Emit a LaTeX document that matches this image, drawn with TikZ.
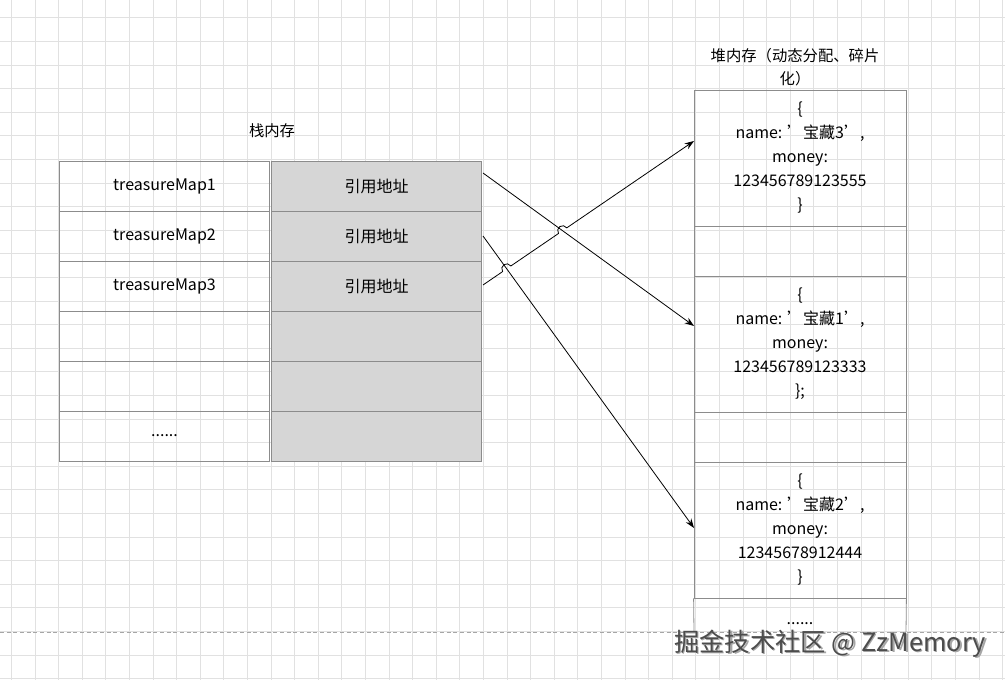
\documentclass[tikz,border=0pt]{standalone}
\usepackage{fontspec}
\setmainfont{Noto Sans CJK SC}
\usetikzlibrary{arrows.meta}
\definecolor{gridgray}{RGB}{225,225,225}
\definecolor{cellgray}{RGB}{214,214,214}
\newcommand\sq{\symbol{39}}
\tikzset{
  cell/.style={draw=black!45,line width=0.6pt,minimum width=158pt,minimum height=37.5pt,inner sep=0pt,font=\fontsize{12pt}{18pt}\selectfont,align=center},
  ref/.style={cell,fill=cellgray},
  obj/.style={cell,minimum width=159pt,minimum height=102pt},
  gap/.style={cell,minimum width=159pt},
  link/.style={line width=0.6pt,-{Stealth[length=7pt,width=5pt]}}
}
\begin{document}
\begin{tikzpicture}[x=0.75pt,y=-0.75pt]
  \useasboundingbox (0,0) rectangle (1005,680);
  \fill[white] (0,0) rectangle (1005,680);
  % background grid
  \foreach \i in {0,...,42} \draw[gridgray,line width=0.5pt] (11.4+23.6*\i,0) -- (11.4+23.6*\i,680);
  \foreach \j in {0,...,28} \draw[gridgray,line width=0.5pt] (0,17.8+23.6*\j) -- (1005,17.8+23.6*\j);

  % stack
  \node[font=\fontsize{11.5pt}{13pt}\selectfont] (stack) at (272,131) {栈内存};
  \foreach \r/\txt in {1/treasureMap1,2/treasureMap2,3/treasureMap3,4/,5/,6/{......}} {
    \node[cell] (name\r) at (164.5,136+50*\r) {\txt};
  }
  \foreach \r/\txt in {1/引用地址,2/引用地址,3/引用地址,4/,5/,6/} {
    \node[ref] (addr\r) at (376.5,136+50*\r) {\txt};
  }

  % heap
  \node[font=\fontsize{11.5pt}{17pt}\selectfont,align=center] (heap) at (795,67) {堆内存（动态分配、碎片\\化）};
  \node[obj] (obj3) at (800,158) {\{\\name: \sq{}宝藏3\sq,\\money:\\123456789123555\\\}};
  \node[gap] (gap1) at (800,251) {};
  \node[obj] (obj1) at (800,344) {\{\\name: \sq{}宝藏1\sq,\\money:\\123456789123333\\\};};
  \node[gap] (gap2) at (800,437) {};
  \node[obj] (obj2) at (800,530) {\{\\name: \sq{}宝藏2\sq,\\money:\\12345678912444\\\}};
  \draw[black!45,line width=0.6pt] (obj2.south west) -- (694,632) (obj2.south east) -- (906,632);
  \node[font=\fontsize{12pt}{13pt}\selectfont] (more) at (800,624) {......};

  % links
  \coordinate (s1) at (483,173);
  \coordinate (s2) at (483,236);
  \coordinate (s3) at (483,285);
  \coordinate (e1) at (694,326);
  \coordinate (e2) at (694,528);
  \coordinate (e3) at (694,141);
  \draw[link] (s1) -- (e1);
  \draw[link] (s2) -- (e2);
  \draw[link] (s3) -- (502.6,271.6) arc[start angle=145.7,end angle=325.7,radius=5]
    -- (558.5,233.5) arc[start angle=145.7,end angle=325.7,radius=5] -- (e3);

  % watermark
  \draw[black!35,dash pattern=on 3pt off 2pt,line width=0.5pt] (0,632) -- (1005,632);
  \node[text=black!35,font=\fontsize{19pt}{22pt}\selectfont] (mark) at (831.5,645) {掘金技术社区 @ ZzMemory};
  \node[text=black!70,font=\fontsize{19pt}{22pt}\selectfont] (mark) at (830,644) {掘金技术社区 @ ZzMemory};
\end{tikzpicture}
\end{document}
